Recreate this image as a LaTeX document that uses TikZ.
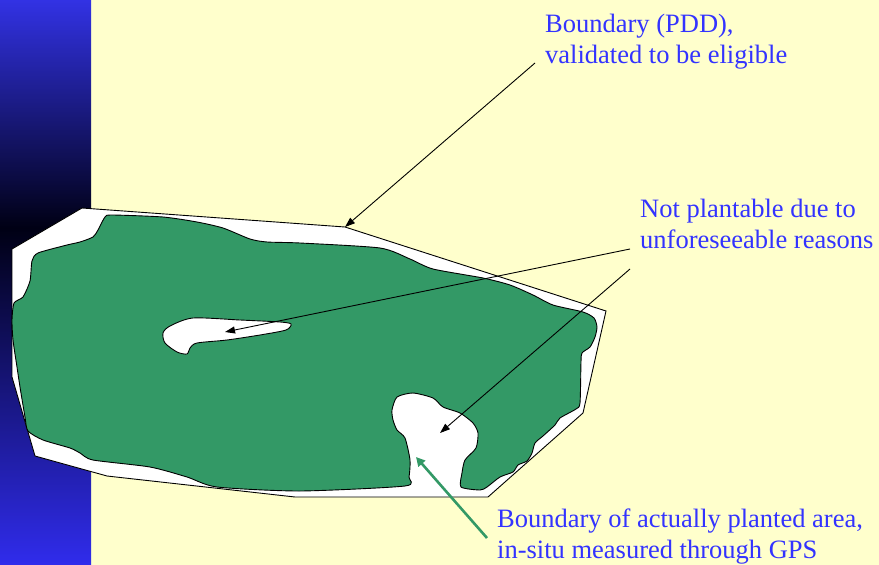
\documentclass[tikz,border=0pt]{standalone}
\usepackage{fontspec}
\setmainfont{Liberation Serif}
\usetikzlibrary{arrows.meta}
\definecolor{bgyellow}{HTML}{FFFFCC}
\definecolor{plantgreen}{HTML}{339966}
\definecolor{txtblue}{HTML}{3333FF}
\definecolor{stripblue}{RGB}{50,50,228}
\definecolor{stripblueb}{RGB}{48,44,236}
\definecolor{stripdark}{RGB}{0,0,20}
\tikzset{
  lbl/.style={text=txtblue, inner sep=0pt, align=left, anchor=base west,
    font=\fontsize{26.5}{30.5}\selectfont},
  blackarrow/.style={draw=black, line width=0.9pt, -{Triangle[length=10pt,width=7pt]}},
  greenarrow/.style={draw=plantgreen, line width=2.6pt, -{Triangle[length=9pt,width=9pt]}},
  outline/.style={draw=black, line width=0.9pt}
}
\begin{document}
\begin{tikzpicture}[x=1pt,y=-1pt]
\useasboundingbox (0,0) rectangle (879,565);
\fill[bgyellow] (0,0) rectangle (879,565);
\shade[top color=stripblue, bottom color=stripdark] (0,0) rectangle (91,228);
\shade[top color=stripdark, bottom color=stripblueb] (0,228) rectangle (91,565);

% validated boundary (PDD)
\draw[outline, fill=white] (82,208) -- (345,227) -- (606,311) -- (583,413) -- (488,497)
  -- (295,497) -- (107,476) -- (35,456) -- (12,377) -- (12,249) -- cycle;

% actually planted area
\draw[outline, fill=plantgreen] plot[smooth cycle, tension=0.4] coordinates {
  (105,217) (112,215) (163,217) (197,222) (223,228) (250,239) (267,242) (300,243)
  (380,248) (410,259) (433,269) (483,278) (510,285) (533,295) (553,305) (583,312)
  (594,318) (597,327) (595,337) (590,347) (582,353) (581,362) (580,403) (576,409)
  (560,418) (555,425) (543,436) (535,443) (532,453) (527,461) (518,465) (513,472)
  (500,477) (487,487) (480,490) (461,487) (462,473) (465,460) (476,448) (478,433)
  (473,423) (460,413) (443,407) (433,398) (413,393) (397,397) (392,410) (393,420)
  (397,430) (405,438) (410,460) (409,477) (405,486) (300,491) (217,487) (187,477)
  (150,467) (93,460) (80,453) (70,448) (43,440) (28,431) (25,417) (20,387) (17,367)
  (13,340) (12,320) (14,303) (23,297) (30,281) (32,261) (38,253) (67,245) (80,242)
  (93,237) (98,230)
};

% hole not plantable
\draw[outline, fill=white] plot[smooth cycle, tension=0.45] coordinates {
  (193,318) (240,320) (280,322) (291,324) (286,330) (260,335) (227,340) (197,343)
  (190,348) (187,354) (177,352) (165,343) (163,333) (170,326)
};

% texts (base anchor = baseline of the last line)
\node[lbl] (pdd) at (545,63) {Boundary (PDD),\\validated to be eligible};
\node[lbl] (unf) at (640,248) {Not plantable due to\\unforeseeable reasons};
\node[lbl] (gps) at (497,558) {Boundary of actually planted area,\\in-situ measured through GPS};

% connector ends
\coordinate (pddtail) at (535,63);
\coordinate (pddhead) at (345,227);
\coordinate (unftailA) at (630,249);
\coordinate (holehead) at (225,332);
\coordinate (unftailB) at (630,269);
\coordinate (bayhead) at (440,433);
\coordinate (gpstail) at (487,538);
\coordinate (gpshead) at (416,457);

\draw[blackarrow] (pddtail) -- (pddhead);
\draw[blackarrow] (unftailA) -- (holehead);
\draw[blackarrow] (unftailB) -- (bayhead);
\draw[greenarrow] (gpstail) -- (gpshead);
\end{tikzpicture}
\end{document}
